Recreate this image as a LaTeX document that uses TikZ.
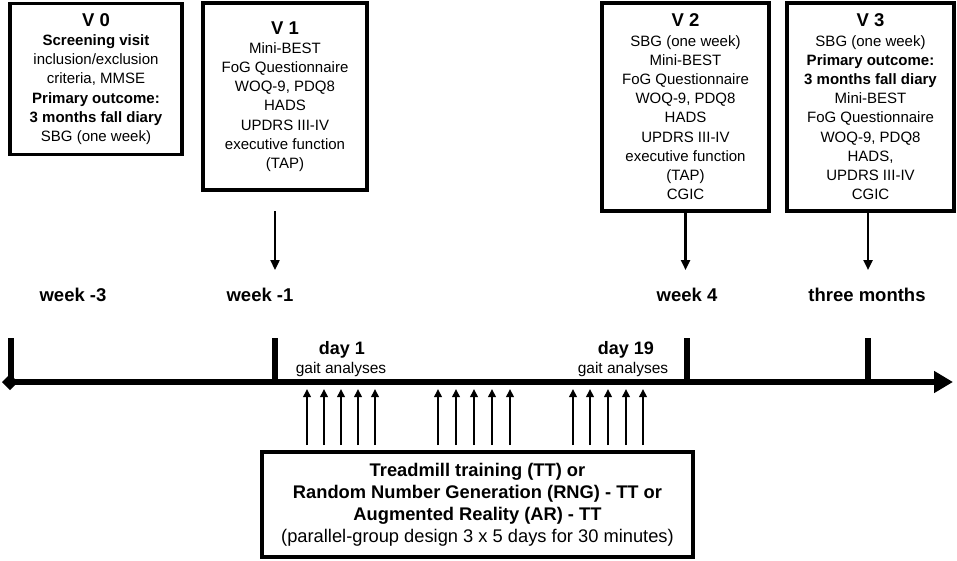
\documentclass[tikz,border=0pt]{standalone}
\usepackage{fontspec}
\setmainfont{Liberation Sans}
\usetikzlibrary{arrows.meta}
\tikzset{
  vbox/.style={draw, line width=3.2pt, align=center, inner sep=0pt,
    font=\fontsize{15}{19.2}\selectfont},
  wlabel/.style={font=\fontsize{18.5}{22}\selectfont\bfseries, inner sep=0pt},
  daylabel/.style={font=\fontsize{18}{22}\selectfont\bfseries, inner sep=0pt},
  gaitlabel/.style={font=\fontsize{15.5}{18}\selectfont, inner sep=0pt},
  ttbox/.style={draw, line width=3.2pt, align=center, inner sep=0pt,
    font=\fontsize{18.3}{22}\selectfont},
  tickline/.style={line width=6pt},
  timeline/.style={line width=6pt, {Diamond[length=16pt,width=16pt]}-{Triangle[length=19pt,width=21pt]}},
  downarr/.style={line width=2.3pt, -{Triangle[length=10pt,width=9pt]}},
  uparr/.style={line width=2pt, -{Triangle[length=8pt,width=7.5pt]}},
}
\newcommand{\vh}[1]{{\fontsize{18.5}{22}\selectfont\bfseries #1}}
\begin{document}
\begin{tikzpicture}[x=1pt,y=-1pt]
\useasboundingbox (0,0) rectangle (957,560);

% visit boxes
\node[vbox, minimum width=172pt, minimum height=151pt] (v0) at (96,79)
  {\vh{V 0}\\ \textbf{Screening visit}\\ inclusion/exclusion\\ criteria, MMSE\\ \textbf{Primary outcome:}\\ \textbf{3 months fall diary}\\ SBG (one week)};
\node[vbox, minimum width=164pt, minimum height=187pt] (v1) at (285,96.5)
  {\vh{V 1}\\ Mini-BEST\\ FoG Questionnaire\\ WOQ-9, PDQ8\\ HADS\\ UPDRS III-IV\\ executive function\\ (TAP)};
\node[vbox, minimum width=167pt, minimum height=208pt] (v2) at (685.5,107)
  {\vh{V 2}\\ SBG (one week)\\ Mini-BEST\\ FoG Questionnaire\\ WOQ-9, PDQ8\\ HADS\\ UPDRS III-IV\\ executive function\\ (TAP)\\ CGIC};
\node[vbox, minimum width=167pt, minimum height=208pt] (v3) at (870.5,107)
  {\vh{V 3}\\ SBG (one week)\\ \textbf{Primary outcome:}\\ \textbf{3 months fall diary}\\ Mini-BEST\\ FoG Questionnaire\\ WOQ-9, PDQ8\\ HADS,\\ UPDRS III-IV\\ CGIC};

% week labels
\node[wlabel] (wm3) at (73,295) {week -3};
\node[wlabel] (wm1) at (260,295) {week -1};
\node[wlabel] (w4) at (687,295) {week 4};
\node[wlabel] (w3m) at (867,295) {three months};

% arrows from visits
\coordinate (a1s) at (275,211);
\coordinate (a1e) at (275,270);
\coordinate (a2e) at (685.5,270);
\coordinate (a3s) at (868,211);
\coordinate (a3e) at (868,270);
\draw[downarr] (a1s) -- (a1e);
\draw[downarr] (v2.south) -- (a2e);
\draw[downarr] (a3s) -- (a3e);

% timeline
\coordinate (tlL) at (2,382);
\coordinate (tlR) at (953,382);
\draw[timeline] (tlL) -- (tlR);
\foreach \x/\n in {11/t0, 275/t1, 687/t2, 868/t3}{
  \coordinate (\n top) at (\x,338);
  \coordinate (\n bot) at (\x,382);
  \draw[tickline] (\n top) -- (\n bot);
}

% day labels
\node[daylabel] (d1) at (342,350) {day 1};
\node[gaitlabel] (g1) at (341,369) {gait analyses};
\node[daylabel] (d19) at (626,350) {day 19};
\node[gaitlabel] (g19) at (623,369) {gait analyses};

% training box
\node[ttbox, minimum width=431pt, minimum height=105pt] (tt) at (477.5,504.5)
  {\textbf{Treadmill training (TT) or}\\ \textbf{Random Number Generation (RNG) - TT or}\\ \textbf{Augmented Reality (AR) - TT}\\ (parallel-group design 3 x 5 days for 30 minutes)};

% up arrows
\foreach \x in {307,324,341,358,375,438,456,474,492,510,573,590,608,626,643}{
  \coordinate (ub\x) at (\x,445);
  \coordinate (ut\x) at (\x,389);
  \draw[uparr] (ub\x) -- (ut\x);
}
\end{tikzpicture}
\end{document}
